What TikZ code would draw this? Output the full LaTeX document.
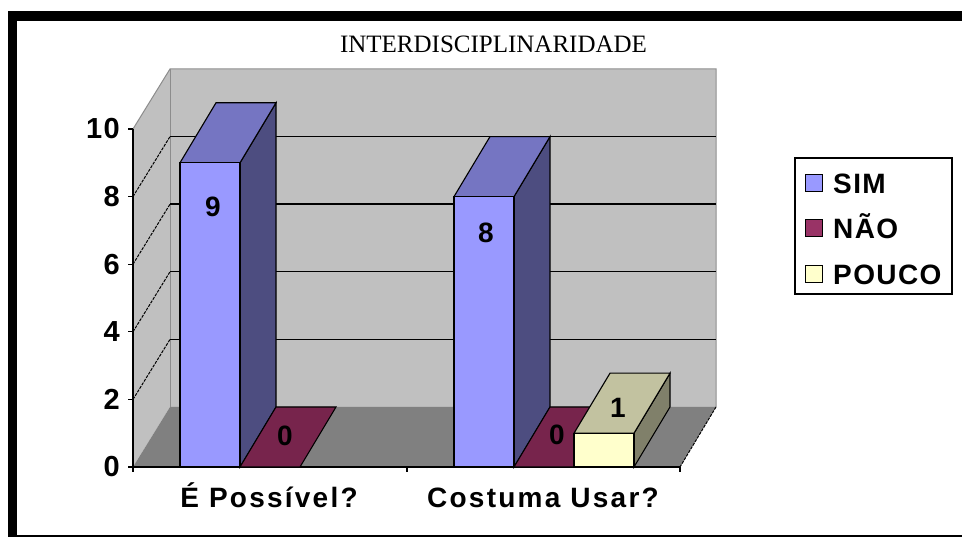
\documentclass[tikz,border=0pt]{standalone}
\usepackage{fontspec}
\setmainfont{Liberation Serif}
\newfontfamily\lblfont[LetterSpace=5]{Liberation Sans}
\newfontfamily\catfont[LetterSpace=8]{Liberation Sans}
\definecolor{wallc}{HTML}{C0C0C0}
\definecolor{wallline}{HTML}{8C8C8C}
\definecolor{floorc}{HTML}{808080}
\definecolor{simF}{HTML}{9999FF}
\definecolor{simT}{HTML}{7575C2}
\definecolor{simS}{HTML}{4D4D80}
\definecolor{naoF}{HTML}{993366}
\definecolor{naoT}{HTML}{77244C}
\definecolor{pouF}{HTML}{FFFFCC}
\definecolor{pouT}{HTML}{C2C2A0}
\definecolor{pouS}{HTML}{80806A}
\newcommand{\barbox}[4]{% #1 left x, #2 value, #3 colour prefix
  \pgfmathsetmacro\ytop{467-33.8*#2}
  \filldraw[fill=#3S, barline] (#1+60,\ytop) -- (#1+96,\ytop-60) -- (#1+96,407) -- (#1+60,467) -- cycle;
  \filldraw[fill=#3T, barline] (#1,\ytop) -- (#1+60,\ytop) -- (#1+96,\ytop-60) -- (#1+36,\ytop-60) -- cycle;
  \filldraw[fill=#3F, barline] (#1,467) rectangle (#1+60,\ytop);
}
\newcommand{\flatbar}[2]{% #1 left x, #2 colour
  \filldraw[fill=#2, barline] (#1,467) -- (#1+60,467) -- (#1+96,407) -- (#1+36,407) -- cycle;
}
\begin{document}
\begin{tikzpicture}[x=1pt,y=-1pt,
  barline/.style={draw=black, line width=1.1pt},
  grid/.style={draw=black, line width=1.4pt},
  diaggrid/.style={draw=black, line width=1pt, dash pattern=on 3pt off 1.2pt},
  sans/.style={font=\lblfont\bfseries\fontsize{28}{30}\selectfont, inner sep=0pt},
  cat/.style={font=\catfont\bfseries\fontsize{28}{30}\selectfont, inner sep=0pt},
  tick/.style={font=\lblfont\bfseries\fontsize{29}{31}\selectfont, inner sep=0pt, anchor=east},
  legsq/.style={draw=black, line width=1pt}]
\useasboundingbox (0,0) rectangle (962,537);
% frame
\fill[black] (8,11) rectangle (962,537);
\fill[white] (17,21) rectangle (962,534.5);
% title
\node[anchor=base, inner sep=0pt, font=\fontsize{25}{27}\selectfont] (title) at (493.5,53) {INTERDISCIPLINARIDADE};
% walls and floor
\fill[wallc] (170,69) rectangle (716,407);
\fill[wallc] (133,467) -- (170,407) -- (170,69) -- (133,129) -- cycle;
\fill[floorc] (133,467) -- (170,407) -- (716,407) -- (680,467) -- cycle;
\draw[wallline, line width=1pt] (133,129) -- (170,69) -- (716,69) -- (716,407);
\draw[wallline, line width=1pt] (170,69) -- (170,407);
\draw[black, line width=1pt, dash pattern=on 3pt off 1.2pt] (716,407) -- (680,467);
% gridlines
\foreach \v in {2,4,6,8} {
  \draw[grid] (170,407-33.8*\v) -- (716,407-33.8*\v);
  \draw[diaggrid] (133,467-33.8*\v) -- (170,407-33.8*\v);
}
% axes
\draw[black, line width=1.2pt] (133,129) -- (133,467) -- (680,467);
\foreach \v in {0,2,4,6,8,10} {
  \draw[black, line width=1.2pt] (128,467-33.8*\v) -- (133,467-33.8*\v);
}
\foreach \xx in {133,407,680} {
  \draw[black, line width=1.2pt] (\xx,467) -- (\xx,472);
}
\node[tick] (t0) at (120,467) {0};
\node[tick] (t2) at (120,467-67.6) {2};
\node[tick] (t4) at (120,467-135.2) {4};
\node[tick] (t6) at (120,467-202.8) {6};
\node[tick] (t8) at (120,467-270.4) {8};
\node[tick] (t10) at (120,467-338) {10};
% bars group 1
\barbox{180}{9}{sim}{}
\flatbar{240}{naoT}
% bars group 2
\barbox{454}{8}{sim}{}
\flatbar{514}{naoT}
\barbox{574}{1}{pou}{}
% value labels
\node[sans] (l9) at (213,207) {9};
\node[sans] (l0a) at (285,436) {0};
\node[sans] (l8) at (486,233) {8};
\node[sans] (l0b) at (557,435) {0};
\node[sans] (l1) at (618,408) {1};
% category labels
\node[cat, anchor=base] (c1) at (269,507) {É Possível?};
\node[cat, anchor=base] (c2) at (543,507) {Costuma Usar?};
% legend
\filldraw[fill=white, draw=black, line width=1.3pt] (795,158) rectangle (952,294);
\filldraw[fill=simF, legsq] (805,175) rectangle (822,192);
\filldraw[fill=naoF, legsq] (805,220) rectangle (822,237);
\filldraw[fill=pouF, legsq] (805,266) rectangle (822,283);
\node[sans, anchor=base west] (ls) at (833,193.5) {SIM};
\node[sans, anchor=base west] (ln) at (833,238.5) {NÃO};
\node[sans, anchor=base west] (lp) at (833,284.5) {POUCO};
\end{tikzpicture}
\end{document}
